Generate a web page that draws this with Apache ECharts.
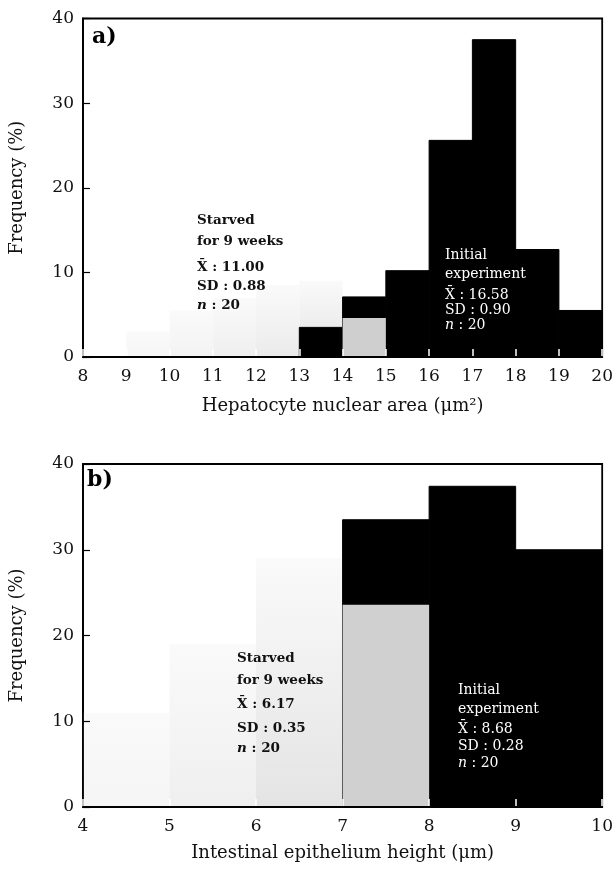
<!DOCTYPE html>
<html>
<head>
<meta charset="utf-8">
<script src="https://cdn.jsdelivr.net/npm/echarts@6/dist/echarts.min.js"></script>
<style>
html,body{margin:0;padding:0;background:#fff;}
#chart{width:616px;height:871px;}
</style>
</head>
<body>
<div id="chart"></div>
<script>
// ---------- data ----------
// Panel a: hepatocyte nuclear area (µm²), bins of width 1
const binWidth = 1;
const initialBinsA = [13, 14, 15, 16, 17, 18, 19];
const initialFreqA = [3.5, 7.1, 10.2, 25.6, 37.5, 12.7, 5.5];
const starvedBinsA = [9, 10, 11, 12, 13, 14];
const starvedFreqA = [3, 5.5, 7, 8.5, 9, 4.6];
const starvedFrontA = [14];          // bins where starved shading overlays the black bars
const xTicksA = [8, 20, 1];          // min, max, interval

// Panel b: intestinal epithelium height (µm)
const initialBinsB = [7, 8, 9];
const initialFreqB = [33.5, 37.4, 30];
const starvedBinsB = [4, 5, 6, 7];
const starvedFreqB = [11, 19, 29, 23.6];
const starvedFrontB = [7];
const xTicksB = [4, 10, 1];
const yTicks = [0, 40, 10];

// styles (kept apart from data)
const starvedShadeA = ['#f6f6f6', '#f3f3f3', '#efefef', '#ebebeb', '#e4e4e4', '#cfcfcf'];
const starvedShadeB = ['#f5f5f5', '#efefef', '#e4e4e4', '#d0d0d0'];

const FONT = '"DejaVu Serif", "Liberation Serif", serif';

function binData(starts, freqs, keep) {
  const out = [];
  starts.forEach((s, i) => { if (keep(s)) out.push([s, s + binWidth, freqs[i], i]); });
  return out;
}

function renderer(colorFn, solid) {
  return function (params, api) {
    const x0 = api.value(0), x1 = api.value(1), h = api.value(2), idx = api.value(3);
    const p0 = api.coord([x0, 0]);
    const p1 = api.coord([x1, h]);
    const fill = colorFn(idx);
    const style = { fill: fill };
    if (solid) { style.stroke = fill; style.lineWidth = 1; }
    return {
      type: 'rect',
      shape: { x: p0[0], y: p1[1], width: p1[0] - p0[0], height: p0[1] - p1[1] },
      style: style
    };
  };
}

function starvedFill(shades) {
  return function (idx) {
    const c = shades[idx];
    return new echarts.graphic.LinearGradient(0, 0, 0, 1, [
      { offset: 0, color: '#fafafa' },
      { offset: 1, color: c }
    ]);
  };
}

const chart = echarts.init(document.getElementById('chart'), null, { renderer: 'canvas' });

function xAxis(gi, ticks, name, gap) {
  return {
    type: 'value', gridIndex: gi, min: ticks[0], max: ticks[1], interval: ticks[2],
    name: name, nameLocation: 'middle', nameGap: gap,
    nameTextStyle: { fontFamily: FONT, fontSize: 18, color: '#111' },
    axisLine: { show: false },
    axisTick: { show: true, inside: true, length: 8, lineStyle: { color: '#fff', width: 1.5 } },
    axisLabel: { fontFamily: FONT, fontSize: 17, color: '#111', margin: 11 },
    splitLine: { show: false },
    z: 10
  };
}
function xLine(gi, ticks) {
  return {
    type: 'value', gridIndex: gi, min: ticks[0], max: ticks[1], interval: ticks[2],
    position: 'bottom',
    axisLine: { show: true, onZero: false, lineStyle: { color: '#000', width: 1.8 } },
    axisTick: { show: false }, axisLabel: { show: false }, splitLine: { show: false },
    z: 11
  };
}
function yAxis(gi) {
  return {
    type: 'value', gridIndex: gi, min: yTicks[0], max: yTicks[1], interval: yTicks[2],
    name: 'Frequency (%)', nameLocation: 'middle', nameGap: 57,
    nameTextStyle: { fontFamily: FONT, fontSize: 18, color: '#111' },
    axisLine: { show: true, lineStyle: { color: '#000', width: 1.8 } },
    axisTick: { show: true, inside: true, length: 7, lineStyle: { color: '#000', width: 1.2 } },
    axisLabel: { fontFamily: FONT, fontSize: 17, color: '#111', margin: 9 },
    splitLine: { show: false },
    z: 10
  };
}

function txt(x, y, s, opt) {
  return {
    type: 'text', left: x, top: y, z: 100,
    style: Object.assign({ text: s, font: '13px ' + FONT, fill: '#111' }, opt || {})
  };
}
function nLine(x, y, bold, color, size) {
  const w = bold ? 'bold ' : '';
  return { type: 'text', left: x, top: y, z: 100,
    style: { rich: { i: { font: 'italic ' + w + size + 'px ' + FONT, fill: color }, n: { font: w + size + 'px ' + FONT, fill: color } },
             text: '{i|n}{n| : 20}' } };
}
const boldS = { font: 'bold 13.5px ' + FONT, fill: '#111' };
const whiteS = { font: '14px ' + FONT, fill: '#fff' };

chart.setOption({
  animation: false,
  backgroundColor: '#fff',
  grid: [
    { left: 81, right: 11, top: 18.5, height: 338.5, show: true, borderColor: '#000', borderWidth: 1.8, backgroundColor: 'transparent' },
    { left: 81, right: 11, top: 464, height: 343, show: true, borderColor: '#000', borderWidth: 1.8, backgroundColor: 'transparent' }
  ],
  xAxis: [
    xAxis(0, xTicksA, 'Hepatocyte nuclear area (\u03bcm\u00b2)', 40),
    xAxis(1, xTicksB, 'Intestinal epithelium height (\u03bcm)', 37),
    xLine(0, xTicksA),
    xLine(1, xTicksB)
  ],
  yAxis: [yAxis(0), yAxis(1)],
  series: [
    { type: 'custom', xAxisIndex: 0, yAxisIndex: 0, z: 1,
      data: binData(starvedBinsA, starvedFreqA, s => starvedFrontA.indexOf(s) < 0),
      renderItem: renderer(starvedFill(starvedShadeA), false) },
    { type: 'custom', xAxisIndex: 0, yAxisIndex: 0, z: 2,
      data: binData(initialBinsA, initialFreqA, () => true),
      renderItem: renderer(() => '#000', true) },
    { type: 'custom', xAxisIndex: 0, yAxisIndex: 0, z: 3,
      data: binData(starvedBinsA, starvedFreqA, s => starvedFrontA.indexOf(s) >= 0),
      renderItem: renderer(i => starvedShadeA[i], false) },

    { type: 'custom', xAxisIndex: 1, yAxisIndex: 1, z: 1,
      data: binData(starvedBinsB, starvedFreqB, s => starvedFrontB.indexOf(s) < 0),
      renderItem: renderer(starvedFill(starvedShadeB), false) },
    { type: 'custom', xAxisIndex: 1, yAxisIndex: 1, z: 2,
      data: binData(initialBinsB, initialFreqB, () => true),
      renderItem: renderer(() => '#000', true) },
    { type: 'custom', xAxisIndex: 1, yAxisIndex: 1, z: 3,
      data: binData(starvedBinsB, starvedFreqB, s => starvedFrontB.indexOf(s) >= 0),
      renderItem: renderer(i => starvedShadeB[i], false) }
  ],
  graphic: [
    txt(92, 26, 'a)', { font: 'bold 22px ' + FONT, fill: '#000' }),
    txt(87, 469, 'b)', { font: 'bold 22px ' + FONT, fill: '#000' }),

    txt(197, 213, 'Starved', boldS),
    txt(197, 234, 'for 9 weeks', boldS),
    txt(197, 260, 'X\u0304 : 11.00', boldS),
    txt(197, 279, 'SD : 0.88', boldS),
    nLine(197, 298, true, '#111', 13.5),

    txt(445, 248, 'Initial', whiteS),
    txt(445, 267, 'experiment', whiteS),
    txt(445, 288, 'X\u0304 : 16.58', whiteS),
    txt(445, 303, 'SD : 0.90', whiteS),
    nLine(445, 318, false, '#fff', 14),

    txt(237, 651, 'Starved', boldS),
    txt(237, 673, 'for 9 weeks', boldS),
    txt(237, 697, 'X\u0304 : 6.17', boldS),
    txt(237, 721, 'SD : 0.35', boldS),
    nLine(237, 741, true, '#111', 13.5),

    txt(458, 683, 'Initial', whiteS),
    txt(458, 702, 'experiment', whiteS),
    txt(458, 722, 'X\u0304 : 8.68', whiteS),
    txt(458, 739, 'SD : 0.28', whiteS),
    nLine(458, 756, false, '#fff', 14)
  ]
});
</script>
</body>
</html>
